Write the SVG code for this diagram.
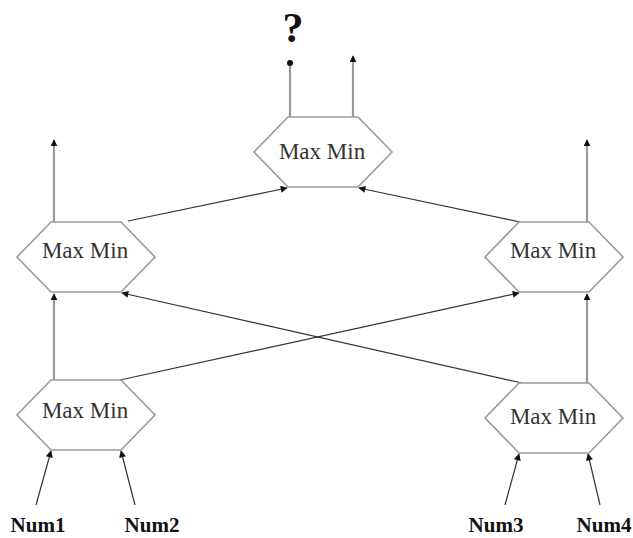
<svg xmlns="http://www.w3.org/2000/svg" width="633" height="538" viewBox="0 0 633 538">
<style>
.hex{fill:#fff;stroke:#9a9a9a;stroke-width:1.6}
.lbl{font-family:"Liberation Serif","Times New Roman",serif;font-size:23px;fill:#333;text-anchor:middle}
.num{font-family:"Liberation Serif","Times New Roman",serif;font-size:21px;font-weight:bold;fill:#111;text-anchor:middle}
.v{stroke:#999;stroke-width:2.2;fill:none}
.d{stroke:#333;stroke-width:1.2;fill:none}
</style>
<defs>
<marker id="ah" viewBox="0 0 10 10" refX="9" refY="5" markerWidth="8" markerHeight="7" markerUnits="userSpaceOnUse" orient="auto">
<path d="M0,0 L10,5 L0,10 z" fill="#111"/>
</marker>
<marker id="ahv" viewBox="0 0 10 10" refX="9" refY="5" markerWidth="7" markerHeight="7" markerUnits="userSpaceOnUse" orient="auto">
<path d="M0,0 L10,5 L0,10 z" fill="#111"/>
</marker>
<marker id="dot" viewBox="0 0 10 10" refX="5" refY="5" markerWidth="6" markerHeight="6" markerUnits="userSpaceOnUse">
<circle cx="5" cy="5" r="5" fill="#111"/>
</marker>
</defs>
<g id="connectors">
<line class="d" x1="36" y1="505" x2="51" y2="451" marker-end="url(#ah)"/>
<line class="d" x1="135" y1="505" x2="121" y2="451" marker-end="url(#ah)"/>
<line class="d" x1="505" y1="505" x2="519" y2="454" marker-end="url(#ah)"/>
<line class="d" x1="600" y1="505" x2="588" y2="454" marker-end="url(#ah)"/>
<line class="v" x1="54" y1="380" x2="54" y2="294" marker-end="url(#ahv)"/>
<line class="v" x1="587" y1="383" x2="587" y2="294" marker-end="url(#ahv)"/>
<line class="d" x1="120" y1="380" x2="519" y2="293" marker-end="url(#ah)"/>
<line class="d" x1="522" y1="383" x2="122" y2="293" marker-end="url(#ah)"/>
<line class="d" x1="128" y1="221" x2="287" y2="188" marker-end="url(#ah)"/>
<line class="d" x1="520" y1="222" x2="359" y2="188" marker-end="url(#ah)"/>
<line class="v" x1="54" y1="222" x2="54" y2="140" marker-end="url(#ahv)"/>
<line class="v" x1="587" y1="222" x2="587" y2="140" marker-end="url(#ahv)"/>
<line class="v" x1="290" y1="117" x2="290" y2="63" marker-end="url(#dot)"/>
<line class="v" x1="353" y1="117" x2="353" y2="56" marker-end="url(#ahv)"/>
</g>
<g id="top">
<polygon class="hex" points="288,117 358,117 392,152 358,187 288,187 254,152"/>
<text class="lbl" x="322" y="159">Max Min</text>
</g>
<g id="leftmid">
<polygon class="hex" points="51,222 121,222 155,257 121,292 51,292 17,257"/>
<text class="lbl" x="85" y="258">Max Min</text>
</g>
<g id="rightmid">
<polygon class="hex" points="519,222 589,222 623,257 589,292 519,292 485,257"/>
<text class="lbl" x="553" y="258">Max Min</text>
</g>
<g id="bottomleft">
<polygon class="hex" points="51,380 121,380 155,415 121,450 51,450 17,415"/>
<text class="lbl" x="85" y="418">Max Min</text>
</g>
<g id="bottomright">
<polygon class="hex" points="519,383 589,383 623,418 589,453 519,453 485,418"/>
<text class="lbl" x="553" y="424">Max Min</text>
</g>
<g id="labels">
<text class="num" x="38" y="532">Num1</text>
<text class="num" x="152" y="532">Num2</text>
<text class="num" x="496" y="532">Num3</text>
<text class="num" x="604" y="532">Num4</text>
<text class="num" x="293" y="42" style="font-size:42px">?</text>
</g>
</svg>
